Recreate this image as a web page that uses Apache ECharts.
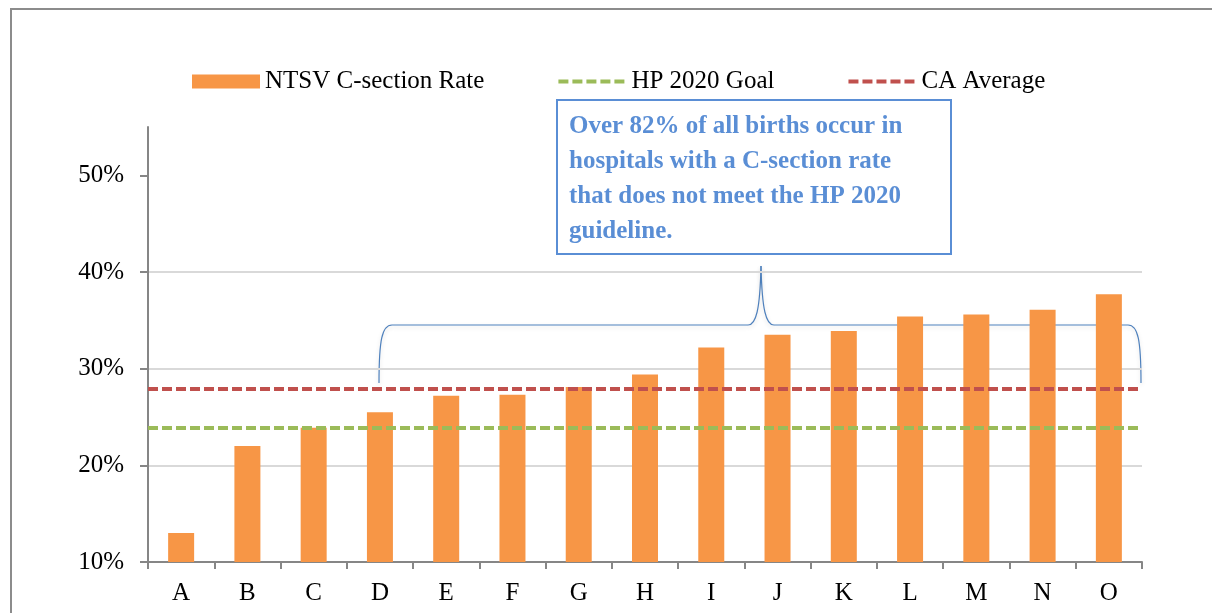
<!DOCTYPE html>
<html>
<head>
<meta charset="utf-8">
<script src="https://cdn.jsdelivr.net/npm/echarts@6/dist/echarts.min.js"></script>
<style>
  html, body { margin: 0; padding: 0; background: #fff; }
  #chart { width: 1212px; height: 613px; }
</style>
</head>
<body>
<div id="chart"></div>
<script>
// hospitals A..O, NTSV c-section rate in %
var hospitals = ['A','B','C','D','E','F','G','H','I','J','K','L','M','N','O'];
var ntsvRate = [13.0, 22.0, 23.9, 25.5, 27.2, 27.3, 28.1, 29.4, 32.2, 33.5, 33.9, 35.4, 35.6, 36.1, 37.7];
var hpGoal = 23.9;
var caAverage = 27.9;
var yTicks = [10, 20, 30, 40, 50];

var serif = '"Liberation Serif", "DejaVu Serif", serif';
var blue = '#5a8ed5';
var green = '#9bbb59';
var red = '#c0504d';

var braceStyle = { fill: 'none', stroke: '#4f81bd', lineWidth: 1.2,
                   shadowBlur: 4, shadowColor: 'rgba(0,0,0,0.15)', shadowOffsetY: 2 };

function curve(x1, y1, c1x, c1y, c2x, c2y, x2, y2) {
    return { type: 'bezierCurve', silent: true,
             shape: { x1: x1, y1: y1, cpx1: c1x, cpy1: c1y, cpx2: c2x, cpy2: c2y, x2: x2, y2: y2 },
             style: braceStyle };
}
function seg(x1, y1, x2, y2) {
    return { type: 'line', silent: true, shape: { x1: x1, y1: y1, x2: x2, y2: y2 }, style: braceStyle };
}

var myChart = echarts.init(document.getElementById('chart'));
var option = {
    animation: false,
    backgroundColor: '#fff',
    textStyle: { fontFamily: serif },
    legend: {
        top: 64,
        left: 187,
        itemGap: 72,
        itemWidth: 68,
        itemHeight: 14,
        textStyle: { fontFamily: serif, fontSize: 25, color: '#000' },
        data: [
            { name: 'NTSV C-section Rate', icon: 'rect' },
            { name: 'HP 2020 Goal', itemStyle: { opacity: 0 }, lineStyle: { color: green, width: 4, type: [10, 4] } },
            { name: 'CA Average', itemStyle: { opacity: 0 }, lineStyle: { color: red, width: 4, type: [10, 4] } }
        ]
    },
    grid: { left: 148, right: 70, top: 127, bottom: 51 },
    xAxis: {
        type: 'category',
        data: hospitals,
        axisLine: { lineStyle: { color: '#868686', width: 2 } },
        axisTick: { show: true, length: 7, lineStyle: { color: '#868686', width: 2 } },
        axisLabel: { color: '#000', fontSize: 25, fontFamily: serif, margin: 19 }
    },
    yAxis: {
        type: 'value',
        min: 10,
        max: 55,
        interval: 10,
        axisLine: { show: true, lineStyle: { color: '#868686', width: 2 } },
        axisTick: { show: true, length: 8, customValues: yTicks, lineStyle: { color: '#868686', width: 2 } },
        axisLabel: { color: '#000', fontSize: 25, fontFamily: serif, margin: 24,
                     customValues: yTicks, formatter: '{value}%' },
        splitLine: { showMaxLine: false, lineStyle: { color: '#d9d9d9', width: 2 } }
    },
    series: [
        {
            name: 'NTSV C-section Rate',
            type: 'bar',
            data: ntsvRate,
            barWidth: 26,
            itemStyle: { color: '#f79646' }
        },
        {
            name: 'HP 2020 Goal',
            type: 'line',
            data: [],
            symbol: 'none',
            color: green,
            lineStyle: { color: green, width: 4, type: [10, 4] },
            markLine: {
                silent: true,
                symbol: ['none', 'none'],
                label: { show: false },
                lineStyle: { color: green, width: 4, type: [10, 4] },
                data: [{ yAxis: hpGoal }]
            },
            z: 5
        },
        {
            name: 'CA Average',
            type: 'line',
            data: [],
            symbol: 'none',
            color: red,
            lineStyle: { color: red, width: 4, type: [10, 4] },
            markLine: {
                silent: true,
                symbol: ['none', 'none'],
                label: { show: false },
                lineStyle: { color: red, width: 4, type: [10, 4] },
                data: [{ yAxis: caAverage }]
            },
            z: 5
        }
    ],
    graphic: [
        // outer frame
        {
            type: 'rect', z: 1, silent: true,
            shape: { x: 11, y: 9, width: 1400, height: 800 },
            style: { fill: 'none', stroke: '#8c8c8c', lineWidth: 2 }
        },
        // brace over D..O
        {
            type: 'group', z: 20,
            children: [
                curve(379, 383, 379, 340, 382, 325, 392, 325),
                seg(392, 325, 748, 325),
                curve(748, 325, 756, 325, 760, 310, 761, 266),
                curve(761, 266, 762, 310, 766, 325, 774, 325),
                seg(774, 325, 1128, 325),
                curve(1128, 325, 1138, 325, 1141, 340, 1141, 383)
            ]
        },
        // callout box
        {
            type: 'rect', z: 20, silent: true,
            shape: { x: 557, y: 100, width: 394, height: 154 },
            style: { fill: '#fff', stroke: blue, lineWidth: 2 }
        },
        {
            type: 'text', z: 21, silent: true,
            left: 569, top: 109,
            style: {
                text: 'Over 82% of all births occur in\nhospitals with a C-section rate\nthat does not meet the HP 2020\nguideline.',
                fill: blue,
                font: 'bold 25px ' + serif,
                lineHeight: 35
            }
        }
    ]
};
myChart.setOption(option);
</script>
</body>
</html>
